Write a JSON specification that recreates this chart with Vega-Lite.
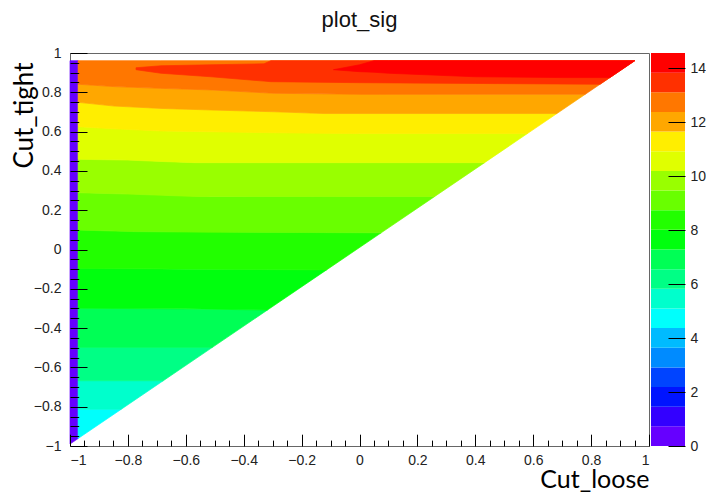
{
  "$schema": "https://vega.github.io/schema/vega-lite/v6.json",
  "background": "white",
  "padding": {"left": 10, "top": 8, "right": 0, "bottom": 0},
  "spacing": 2,
  "bounds": "flush",
  "resolve": {"scale": {"x": "independent", "y": "independent", "color": "shared", "stroke": "shared"}, "legend": {"color": "independent", "stroke": "independent"}},
  "config": {
    "view": {"stroke": "#666666", "strokeWidth": 1},
    "axis": {"labelFont": "Liberation Sans", "labelFontSize": 14, "labelColor": "#222222", "tickColor": "#000000", "tickWidth": 1, "domain": false, "grid": false, "titleFont": "Lato", "titleFontWeight": "normal", "titleColor": "#000000", "titleFontSize": 26}
  },
  "hconcat": [
    {
      "width": 579,
      "height": 393,
      "title": {"text": "plot_sig", "font": "Liberation Sans", "fontSize": 22, "fontWeight": "normal", "color": "#111111", "anchor": "middle", "offset": 14},
      "data": {"values": [
        {"x": -1, "lo": -0.99, "hi": 0.961, "sig": 0.36},
        {"x": -0.972, "lo": -0.962, "hi": 0.961, "sig": 0.36},
        {"x": -0.972, "lo": -0.962, "hi": -0.813, "sig": 4.74},
        {"x": -0.823, "lo": -0.813, "hi": -0.813, "sig": 4.74},
        {"x": -0.972, "lo": -0.813, "hi": -0.668, "sig": 5.46},
        {"x": -0.823, "lo": -0.813, "hi": -0.668, "sig": 5.46},
        {"x": -0.678, "lo": -0.668, "hi": -0.668, "sig": 5.46},
        {"x": -0.972, "lo": -0.668, "hi": -0.498, "sig": 6.19},
        {"x": -0.678, "lo": -0.668, "hi": -0.498, "sig": 6.19},
        {"x": -0.508, "lo": -0.498, "hi": -0.498, "sig": 6.19},
        {"x": -0.972, "lo": -0.498, "hi": -0.299, "sig": 6.92},
        {"x": -0.508, "lo": -0.498, "hi": -0.304, "sig": 6.92},
        {"x": -0.318, "lo": -0.308, "hi": -0.308, "sig": 6.92},
        {"x": -0.972, "lo": -0.299, "hi": -0.096, "sig": 7.65},
        {"x": -0.6, "lo": -0.302, "hi": -0.1, "sig": 7.65},
        {"x": -0.318, "lo": -0.308, "hi": -0.103, "sig": 7.65},
        {"x": -0.114, "lo": -0.104, "hi": -0.104, "sig": 7.65},
        {"x": -0.972, "lo": -0.096, "hi": 0.099, "sig": 8.38},
        {"x": -0.78, "lo": -0.098, "hi": 0.091, "sig": 8.38},
        {"x": -0.114, "lo": -0.104, "hi": 0.086, "sig": 8.38},
        {"x": 0.075, "lo": 0.085, "hi": 0.085, "sig": 8.38},
        {"x": -0.972, "lo": 0.099, "hi": 0.289, "sig": 9.11},
        {"x": -0.78, "lo": 0.091, "hi": 0.282, "sig": 9.11},
        {"x": -0.513, "lo": 0.088, "hi": 0.269, "sig": 9.11},
        {"x": 0.075, "lo": 0.085, "hi": 0.27, "sig": 9.11},
        {"x": 0.26, "lo": 0.27, "hi": 0.27, "sig": 9.11},
        {"x": -0.972, "lo": 0.289, "hi": 0.459, "sig": 9.84},
        {"x": -0.8, "lo": 0.282, "hi": 0.455, "sig": 9.84},
        {"x": -0.57, "lo": 0.27, "hi": 0.442, "sig": 9.84},
        {"x": 0.26, "lo": 0.27, "hi": 0.442, "sig": 9.84},
        {"x": 0.432, "lo": 0.442, "hi": 0.442, "sig": 9.84},
        {"x": -0.972, "lo": 0.459, "hi": 0.625, "sig": 10.56},
        {"x": -0.8, "lo": 0.455, "hi": 0.612, "sig": 10.56},
        {"x": -0.686, "lo": 0.448, "hi": 0.603, "sig": 10.56},
        {"x": -0.57, "lo": 0.442, "hi": 0.6, "sig": 10.56},
        {"x": 0.0, "lo": 0.442, "hi": 0.59, "sig": 10.56},
        {"x": 0.432, "lo": 0.442, "hi": 0.59, "sig": 10.56},
        {"x": 0.58, "lo": 0.59, "hi": 0.59, "sig": 10.56},
        {"x": -0.972, "lo": 0.625, "hi": 0.749, "sig": 11.29},
        {"x": -0.848, "lo": 0.614, "hi": 0.73, "sig": 11.29},
        {"x": -0.686, "lo": 0.603, "hi": 0.718, "sig": 11.29},
        {"x": -0.295, "lo": 0.594, "hi": 0.701, "sig": 11.29},
        {"x": -0.123, "lo": 0.591, "hi": 0.692, "sig": 11.29},
        {"x": 0.0, "lo": 0.59, "hi": 0.692, "sig": 11.29},
        {"x": 0.58, "lo": 0.59, "hi": 0.692, "sig": 11.29},
        {"x": 0.682, "lo": 0.692, "hi": 0.692, "sig": 11.29},
        {"x": -0.972, "lo": 0.749, "hi": 0.841, "sig": 12.02},
        {"x": -0.848, "lo": 0.73, "hi": 0.829, "sig": 12.02},
        {"x": -0.686, "lo": 0.718, "hi": 0.82, "sig": 12.02},
        {"x": -0.513, "lo": 0.71, "hi": 0.812, "sig": 12.02},
        {"x": -0.295, "lo": 0.701, "hi": 0.795, "sig": 12.02},
        {"x": -0.123, "lo": 0.692, "hi": 0.791, "sig": 12.02},
        {"x": 0.682, "lo": 0.692, "hi": 0.79, "sig": 12.02},
        {"x": 0.78, "lo": 0.79, "hi": 0.79, "sig": 12.02},
        {"x": -0.972, "lo": 0.841, "hi": 0.961, "sig": 12.75},
        {"x": -0.848, "lo": 0.829, "hi": 0.961, "sig": 12.75},
        {"x": -0.686, "lo": 0.82, "hi": 0.961, "sig": 12.75},
        {"x": -0.513, "lo": 0.812, "hi": 0.961, "sig": 12.75},
        {"x": -0.295, "lo": 0.795, "hi": 0.961, "sig": 12.75},
        {"x": 0.005, "lo": 0.79, "hi": 0.961, "sig": 12.75},
        {"x": 0.78, "lo": 0.79, "hi": 0.961, "sig": 12.75},
        {"x": 0.951, "lo": 0.961, "hi": 0.961, "sig": 12.75},
        {"x": -0.772, "lo": 0.915, "hi": 0.925, "sig": 13.48},
        {"x": -0.686, "lo": 0.897, "hi": 0.935, "sig": 13.48},
        {"x": -0.513, "lo": 0.879, "hi": 0.94, "sig": 13.48},
        {"x": -0.33, "lo": 0.857, "hi": 0.945, "sig": 13.48},
        {"x": -0.306, "lo": 0.854, "hi": 0.961, "sig": 13.48},
        {"x": 0.0, "lo": 0.849, "hi": 0.961, "sig": 13.48},
        {"x": 0.4, "lo": 0.845, "hi": 0.961, "sig": 13.48},
        {"x": 0.831, "lo": 0.841, "hi": 0.961, "sig": 13.48},
        {"x": 0.951, "lo": 0.961, "hi": 0.961, "sig": 13.48},
        {"x": -0.09, "lo": 0.915, "hi": 0.915, "sig": 14.21},
        {"x": 0.0, "lo": 0.905, "hi": 0.94, "sig": 14.21},
        {"x": 0.05, "lo": 0.902, "hi": 0.961, "sig": 14.21},
        {"x": 0.1, "lo": 0.897, "hi": 0.961, "sig": 14.21},
        {"x": 0.4, "lo": 0.879, "hi": 0.961, "sig": 14.21},
        {"x": 0.7, "lo": 0.875, "hi": 0.961, "sig": 14.21},
        {"x": 0.865, "lo": 0.875, "hi": 0.961, "sig": 14.21},
        {"x": 0.951, "lo": 0.961, "hi": 0.961, "sig": 14.21}
      ]},
      "layer": [
        {
          "transform": [{"filter": "datum.sig < 13"}],
          "mark": {"type": "area", "interpolate": "linear", "strokeWidth": 0.7},
          "encoding": {
            "x": {"field": "x", "type": "quantitative", "scale": {"domain": [-1, 1], "nice": false, "zero": false},
                  "axis": {"orient": "bottom", "zindex": 1, "values": [-1, -0.8, -0.6, -0.4, -0.2, 0, 0.2, 0.4, 0.6, 0.8, 1], "format": "~g", "tickSize": -11.8, "labelPadding": 19, "title": "Cut_loose", "titleFontSize": 25, "titleAnchor": "end", "titleAlign": "right", "titlePadding": 0}},
            "y": {"field": "lo", "type": "quantitative", "stack": null, "scale": {"domain": [-1, 1], "nice": false, "zero": false},
                  "axis": {"orient": "left", "zindex": 1, "values": [-1, -0.8, -0.6, -0.4, -0.2, 0, 0.2, 0.4, 0.6, 0.8, 1], "format": "~g", "tickSize": -17, "labelPadding": 26, "title": "Cut_tight", "titleAnchor": "end", "titleY": 9, "titlePadding": -4}},
            "y2": {"field": "hi"},
            "color": {"field": "sig", "type": "quantitative", "legend": null,
                      "scale": {"type": "threshold", "domain": [0.7285, 1.457, 2.1855, 2.914, 3.6425, 4.371, 5.0995, 5.828, 6.5565, 7.285, 8.0135, 8.742, 9.4705, 10.199, 10.9275, 11.656, 12.3845, 13.113, 13.8415],
                                "range": ["#6600ff", "#3300ff", "#0014ff", "#0044ff", "#008bff", "#00bbff", "#00fffc", "#00ffcc", "#00ff85", "#00ff55", "#00ff0e", "#22ff00", "#69ff00", "#99ff00", "#e0ff00", "#ffee00", "#ffa700", "#ff7700", "#ff3000", "#ff0000"]}},
            "stroke": {"field": "sig", "type": "quantitative", "legend": null,
                      "scale": {"type": "threshold", "domain": [0.7285, 1.457, 2.1855, 2.914, 3.6425, 4.371, 5.0995, 5.828, 6.5565, 7.285, 8.0135, 8.742, 9.4705, 10.199, 10.9275, 11.656, 12.3845, 13.113, 13.8415],
                                "range": ["#6600ff", "#3300ff", "#0014ff", "#0044ff", "#008bff", "#00bbff", "#00fffc", "#00ffcc", "#00ff85", "#00ff55", "#00ff0e", "#22ff00", "#69ff00", "#99ff00", "#e0ff00", "#ffee00", "#ffa700", "#ff7700", "#ff3000", "#ff0000"]}}
          }
        },
        {
          "transform": [{"filter": "datum.sig > 13 && datum.sig < 14"}],
          "mark": {"type": "area", "interpolate": "linear", "strokeWidth": 0.7},
          "encoding": {
            "x": {"field": "x", "type": "quantitative",
                  "axis": {"orient": "bottom", "zindex": 1, "values": [-0.95, -0.9, -0.85, -0.75, -0.7, -0.65, -0.55, -0.5, -0.45, -0.35, -0.3, -0.25, -0.15, -0.1, -0.05, 0.05, 0.1, 0.15, 0.25, 0.3, 0.35, 0.45, 0.5, 0.55, 0.65, 0.7, 0.75, 0.85, 0.9, 0.95], "labels": false, "tickSize": -5.9, "title": null}},
            "y": {"field": "lo", "type": "quantitative", "stack": null,
                  "axis": {"orient": "left", "zindex": 1, "values": [-0.95, -0.9, -0.85, -0.75, -0.7, -0.65, -0.55, -0.5, -0.45, -0.35, -0.3, -0.25, -0.15, -0.1, -0.05, 0.05, 0.1, 0.15, 0.25, 0.3, 0.35, 0.45, 0.5, 0.55, 0.65, 0.7, 0.75, 0.85, 0.9, 0.95], "labels": false, "tickSize": -8.7, "title": null}},
            "y2": {"field": "hi"},
            "color": {"field": "sig", "type": "quantitative", "legend": null,
                      "scale": {"type": "threshold", "domain": [0.7285, 1.457, 2.1855, 2.914, 3.6425, 4.371, 5.0995, 5.828, 6.5565, 7.285, 8.0135, 8.742, 9.4705, 10.199, 10.9275, 11.656, 12.3845, 13.113, 13.8415],
                                "range": ["#6600ff", "#3300ff", "#0014ff", "#0044ff", "#008bff", "#00bbff", "#00fffc", "#00ffcc", "#00ff85", "#00ff55", "#00ff0e", "#22ff00", "#69ff00", "#99ff00", "#e0ff00", "#ffee00", "#ffa700", "#ff7700", "#ff3000", "#ff0000"]}},
            "stroke": {"field": "sig", "type": "quantitative", "legend": null,
                      "scale": {"type": "threshold", "domain": [0.7285, 1.457, 2.1855, 2.914, 3.6425, 4.371, 5.0995, 5.828, 6.5565, 7.285, 8.0135, 8.742, 9.4705, 10.199, 10.9275, 11.656, 12.3845, 13.113, 13.8415],
                                "range": ["#6600ff", "#3300ff", "#0014ff", "#0044ff", "#008bff", "#00bbff", "#00fffc", "#00ffcc", "#00ff85", "#00ff55", "#00ff0e", "#22ff00", "#69ff00", "#99ff00", "#e0ff00", "#ffee00", "#ffa700", "#ff7700", "#ff3000", "#ff0000"]}}
          }
        },
        {
          "transform": [{"filter": "datum.sig > 14"}],
          "mark": {"type": "area", "interpolate": "linear", "strokeWidth": 0.7},
          "encoding": {
            "x": {"field": "x", "type": "quantitative", "axis": null},
            "y": {"field": "lo", "type": "quantitative", "stack": null, "axis": null},
            "y2": {"field": "hi"},
            "color": {"field": "sig", "type": "quantitative", "legend": null,
                      "scale": {"type": "threshold", "domain": [0.7285, 1.457, 2.1855, 2.914, 3.6425, 4.371, 5.0995, 5.828, 6.5565, 7.285, 8.0135, 8.742, 9.4705, 10.199, 10.9275, 11.656, 12.3845, 13.113, 13.8415],
                                "range": ["#6600ff", "#3300ff", "#0014ff", "#0044ff", "#008bff", "#00bbff", "#00fffc", "#00ffcc", "#00ff85", "#00ff55", "#00ff0e", "#22ff00", "#69ff00", "#99ff00", "#e0ff00", "#ffee00", "#ffa700", "#ff7700", "#ff3000", "#ff0000"]}},
            "stroke": {"field": "sig", "type": "quantitative", "legend": null,
                      "scale": {"type": "threshold", "domain": [0.7285, 1.457, 2.1855, 2.914, 3.6425, 4.371, 5.0995, 5.828, 6.5565, 7.285, 8.0135, 8.742, 9.4705, 10.199, 10.9275, 11.656, 12.3845, 13.113, 13.8415],
                                "range": ["#6600ff", "#3300ff", "#0014ff", "#0044ff", "#008bff", "#00bbff", "#00fffc", "#00ffcc", "#00ff85", "#00ff55", "#00ff0e", "#22ff00", "#69ff00", "#99ff00", "#e0ff00", "#ffee00", "#ffa700", "#ff7700", "#ff3000", "#ff0000"]}}
          }
        }
      ],
      "resolve": {"axis": {"x": "independent", "y": "independent"}}
    },
    {
      "width": 34,
      "height": 393,
      "view": {"stroke": null},
      "data": {"values": [
        {"lo": 0, "hi": 0.7285, "sig": 0.36},
        {"lo": 0.7285, "hi": 1.457, "sig": 1.09},
        {"lo": 1.457, "hi": 2.1855, "sig": 1.82},
        {"lo": 2.1855, "hi": 2.914, "sig": 2.55},
        {"lo": 2.914, "hi": 3.6425, "sig": 3.28},
        {"lo": 3.6425, "hi": 4.371, "sig": 4.01},
        {"lo": 4.371, "hi": 5.0995, "sig": 4.74},
        {"lo": 5.0995, "hi": 5.828, "sig": 5.46},
        {"lo": 5.828, "hi": 6.5565, "sig": 6.19},
        {"lo": 6.5565, "hi": 7.285, "sig": 6.92},
        {"lo": 7.285, "hi": 8.0135, "sig": 7.65},
        {"lo": 8.0135, "hi": 8.742, "sig": 8.38},
        {"lo": 8.742, "hi": 9.4705, "sig": 9.11},
        {"lo": 9.4705, "hi": 10.199, "sig": 9.84},
        {"lo": 10.199, "hi": 10.9275, "sig": 10.56},
        {"lo": 10.9275, "hi": 11.656, "sig": 11.29},
        {"lo": 11.656, "hi": 12.3845, "sig": 12.02},
        {"lo": 12.3845, "hi": 13.113, "sig": 12.75},
        {"lo": 13.113, "hi": 13.8415, "sig": 13.48},
        {"lo": 13.8415, "hi": 14.57, "sig": 14.21}
      ]},
      "mark": {"type": "rect"},
      "encoding": {
        "x": {"datum": 0, "type": "quantitative", "scale": {"domain": [0, 1]}, "axis": null},
        "x2": {"datum": 1},
        "y": {"field": "lo", "type": "quantitative", "scale": {"domain": [0, 14.57], "nice": false, "zero": false},
              "axis": {"orient": "right", "zindex": 1, "values": [0, 2, 4, 6, 8, 10, 12, 14], "format": "d", "tickSize": -17, "labelPadding": 22, "title": null}},
        "y2": {"field": "hi"},
        "color": {"field": "sig", "type": "quantitative", "legend": null,
                  "scale": {"type": "threshold", "domain": [0.7285, 1.457, 2.1855, 2.914, 3.6425, 4.371, 5.0995, 5.828, 6.5565, 7.285, 8.0135, 8.742, 9.4705, 10.199, 10.9275, 11.656, 12.3845, 13.113, 13.8415],
                            "range": ["#6600ff", "#3300ff", "#0014ff", "#0044ff", "#008bff", "#00bbff", "#00fffc", "#00ffcc", "#00ff85", "#00ff55", "#00ff0e", "#22ff00", "#69ff00", "#99ff00", "#e0ff00", "#ffee00", "#ffa700", "#ff7700", "#ff3000", "#ff0000"]}}
      }
    }
  ]
}
